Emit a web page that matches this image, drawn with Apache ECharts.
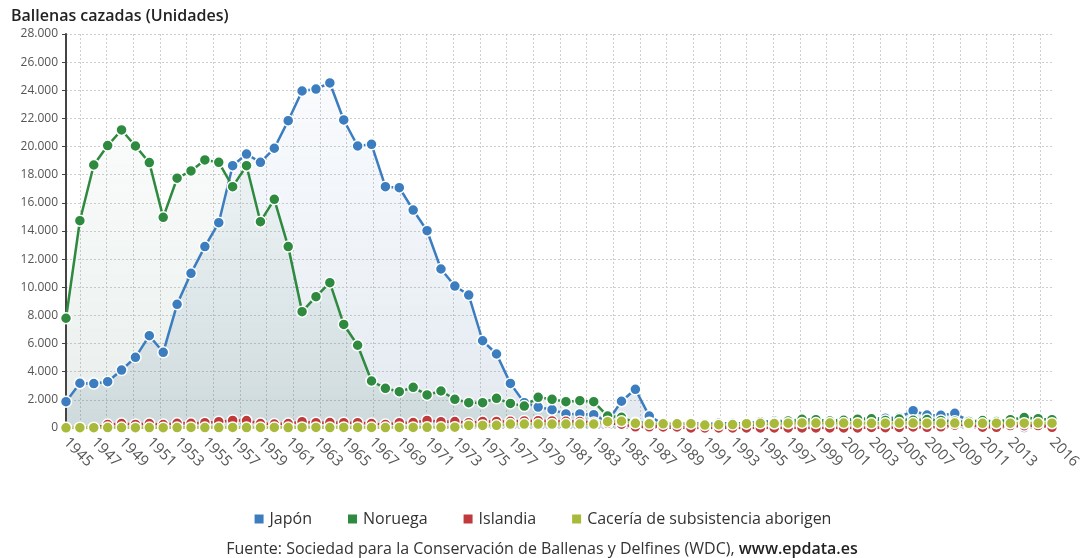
<!DOCTYPE html>
<html>
<head>
<meta charset="utf-8">
<script src="https://cdn.jsdelivr.net/npm/echarts@6/dist/echarts.min.js"></script>
<style>
html,body{margin:0;padding:0;background:#fff;}
#c{width:1084px;height:558px;}
</style>
</head>
<body>
<div id="c"></div>
<script>
const years = ['1945','1946','1947','1948','1949','1950','1951','1952','1953','1954','1955','1956','1957','1958','1959','1960','1961','1962','1963','1964','1965','1966','1967','1968','1969','1970','1971','1972','1973','1974','1975','1976','1977','1978','1979','1980','1981','1982','1983','1984','1985','1986','1987','1988','1989','1990','1991','1992','1993','1994','1995','1996','1997','1998','1999','2000','2001','2002','2003','2004','2005','2006','2007','2008','2009','2010','2011','2012','2013','2014','2015','2016'];

const japon = [1870,3180,3160,3290,4120,5020,6560,5380,8790,10990,12890,14590,18640,19470,18880,19880,21840,23950,24090,24520,21890,20040,20160,17150,17080,15490,14020,11300,10090,9450,6200,5260,3170,1800,1490,1300,1000,1000,950,450,1900,2750,850,270,240,330,290,330,330,330,450,490,500,540,540,540,590,640,700,700,750,1230,920,900,1040,500,260,180,250,30,330,330];

const noruega = [7800,14730,18690,20070,21180,20040,18860,14970,17750,18270,19050,18880,17150,18640,14660,16250,12890,8270,9330,10330,7360,5880,3340,2820,2580,2890,2350,2630,2040,1800,1800,2110,1750,1560,2180,2040,1870,1940,1870,850,760,380,370,30,20,5,0,0,230,280,220,390,500,620,590,490,550,630,650,540,640,550,600,540,480,470,530,460,590,740,660,590];

const islandia = [0,0,0,240,320,250,320,240,330,330,380,450,540,530,320,280,320,450,380,390,380,380,320,240,380,390,540,450,460,380,470,470,480,500,520,500,480,460,390,330,270,80,80,70,70,0,0,0,0,0,0,0,0,0,0,0,0,0,40,25,40,70,45,80,200,270,60,50,170,160,170,50];

const aborigen = [10,20,20,30,30,20,30,20,30,40,30,30,40,30,40,40,30,40,40,30,40,40,40,30,40,40,50,50,60,180,180,190,280,280,280,280,280,280,280,450,480,330,300,300,300,310,210,230,240,310,330,320,340,360,350,350,350,340,330,340,350,350,340,340,350,330,330,340,340,340,350,340];

const yTicks = {min: 0, max: 28000, interval: 2000};

const colors = ['#3b7dbf', '#2e8a3e', '#c0393b', '#a9b93a'];

function fmt(v) {
  return String(v).replace(/\B(?=(\d{3})+(?!\d))/g, '.');
}

const chart = echarts.init(document.getElementById('c'), null, {renderer: 'canvas'});

function mkSeries(name, data, color, area) {
  const s = {
    name: name,
    type: 'line',
    data: data,
    symbol: 'circle',
    symbolSize: 11,
    showAllSymbol: true,
    lineStyle: {width: 2.5, color: color},
    itemStyle: {color: color, borderColor: '#fff', borderWidth: 1.5},
    emphasis: {disabled: true}
  };
  if (area) s.areaStyle = area;
  return s;
}

chart.setOption({
  animation: false,
  color: colors,
  textStyle: {fontFamily: 'Open Sans'},
  title: [
    {text: 'Ballenas cazadas (Unidades)', left: 6, top: 3,
     textStyle: {fontSize: 16, fontWeight: 600, color: '#222', fontFamily: 'Open Sans'}},
    {text: '{a|Fuente: Sociedad para la Conservación de Ballenas y Delfines (WDC), }{b|www.epdata.es}',
     left: 'center', top: 536,
     textStyle: {fontWeight: 'normal', rich: {
       a: {fontSize: 16, color: '#333', fontWeight: 'normal', fontFamily: 'Open Sans'},
       b: {fontSize: 16, color: '#222', fontWeight: 600, fontFamily: 'Open Sans'}
     }}}
  ],
  legend: {
    top: 506, left: 'center',
    icon: 'rect', itemWidth: 11, itemHeight: 11, itemGap: 34,
    textStyle: {fontSize: 16, color: '#333', fontFamily: 'Open Sans'},
    data: ['Japón', 'Noruega', 'Islandia', 'Cacería de subsistencia aborigen']
  },
  grid: [
    {left: 66, right: 32, top: 34, bottom: 130, containLabel: false},
    {left: 80, right: 44, top: 34, bottom: 130, containLabel: false}
  ],
  xAxis: [
    {
      type: 'category', data: years, boundaryGap: false, gridIndex: 0,
      axisLine: {show: false}, axisTick: {show: false},
      splitLine: {show: false},
      axisLabel: {
        rotate: -45, margin: 12, fontSize: 15, color: '#555', fontFamily: 'Open Sans',
        interval: function (i) { return (i % 2 === 0 && i !== 70) || i === 71; }
      },
      z: 3
    },
    {
      type: 'value', gridIndex: 1, min: 0, max: 36, interval: 1,
      axisLine: {show: false}, axisTick: {show: false}, axisLabel: {show: false},
      splitLine: {show: true, lineStyle: {color: '#cfcfcf', type: [2, 2], width: 1}}
    }
  ],
  yAxis: [
    {
      type: 'value', gridIndex: 0, min: yTicks.min, max: yTicks.max, interval: yTicks.interval,
      axisLine: {show: true, lineStyle: {color: '#444', width: 2}},
      axisTick: {show: true, length: 4, lineStyle: {color: '#444', width: 1}},
      axisLabel: {formatter: fmt, fontSize: 12, color: '#555', margin: 8, fontFamily: 'Open Sans'},
      splitLine: {show: true, lineStyle: {color: '#cfcfcf', type: [2, 2], width: 1}},
      z: 3
    },
    {
      type: 'value', gridIndex: 1, min: 0, max: 1,
      axisLine: {show: false}, axisTick: {show: false}, axisLabel: {show: false},
      splitLine: {show: false}
    }
  ],
  series: [
    mkSeries('Japón', japon, colors[0], {
      color: {type: 'linear', x: 0, y: 0, x2: 0, y2: 1, colorStops: [
        {offset: 0, color: 'rgba(90,140,200,0.05)'},
        {offset: 1, color: 'rgba(70,110,150,0.22)'}
      ]}
    }),
    mkSeries('Noruega', noruega, colors[1], {
      color: {type: 'linear', x: 0, y: 0, x2: 0, y2: 1, colorStops: [
        {offset: 0, color: 'rgba(60,130,80,0.04)'},
        {offset: 1, color: 'rgba(50,100,80,0.16)'}
      ]}
    }),
    mkSeries('Islandia', islandia, colors[2], null),
    mkSeries('Cacería de subsistencia aborigen', aborigen, colors[3], null)
  ]
});
</script>
</body>
</html>
